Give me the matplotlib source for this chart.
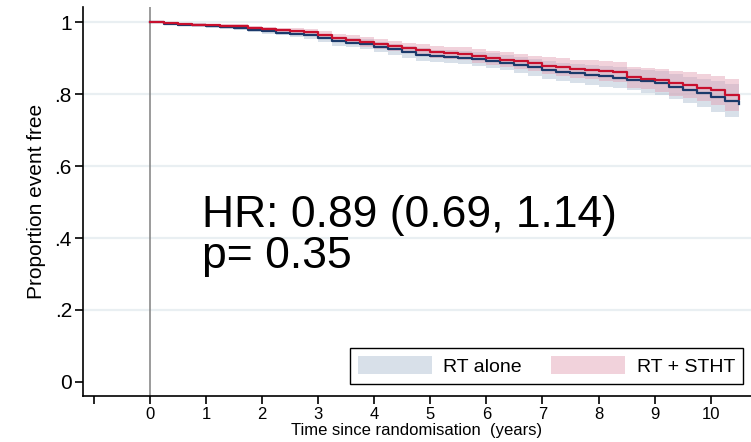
import numpy as np
import matplotlib
matplotlib.use("Agg")
import matplotlib.pyplot as plt
from matplotlib.patches import Patch

plt.rcParams["font.family"] = ["Liberation Sans", "DejaVu Sans"]

# Kaplan-Meier estimates (years since randomisation)
years = [0.0, 0.25, 0.5, 0.75, 1.0, 1.25, 1.5, 1.75, 2.0, 2.25, 2.5, 2.75,
         3.0, 3.25, 3.5, 3.75, 4.0, 4.25, 4.5, 4.75, 5.0, 5.25, 5.5, 5.75,
         6.0, 6.25, 6.5, 6.75, 7.0, 7.25, 7.5, 7.75, 8.0, 8.25, 8.5, 8.75,
         9.0, 9.25, 9.5, 9.75, 10.0, 10.25, 10.5]

rt_alone = [1.000, 0.996, 0.993, 0.991, 0.989, 0.986, 0.984, 0.979, 0.975,
            0.971, 0.967, 0.963, 0.955, 0.947, 0.943, 0.939, 0.932, 0.925,
            0.917, 0.910, 0.906, 0.904, 0.901, 0.897, 0.893, 0.887, 0.881,
            0.874, 0.867, 0.862, 0.858, 0.853, 0.849, 0.845, 0.840, 0.835,
            0.830, 0.820, 0.811, 0.803, 0.793, 0.782, 0.773]

rt_stht = [1.000, 0.997, 0.994, 0.993, 0.992, 0.990, 0.988, 0.984, 0.980,
           0.977, 0.975, 0.972, 0.965, 0.957, 0.951, 0.945, 0.940, 0.934,
           0.928, 0.922, 0.918, 0.915, 0.912, 0.906, 0.900, 0.896, 0.891,
           0.885, 0.879, 0.875, 0.871, 0.868, 0.864, 0.861, 0.847, 0.843,
           0.838, 0.830, 0.824, 0.818, 0.810, 0.798, 0.786]

# 95% confidence band half-widths
rt_alone_ci = [0.000, 0.002, 0.003, 0.004, 0.005, 0.005, 0.006, 0.007, 0.008,
               0.008, 0.009, 0.010, 0.011, 0.012, 0.013, 0.013, 0.014, 0.015,
               0.016, 0.017, 0.017, 0.018, 0.018, 0.019, 0.020, 0.021, 0.022,
               0.023, 0.024, 0.025, 0.026, 0.027, 0.028, 0.029, 0.030, 0.032,
               0.033, 0.035, 0.037, 0.039, 0.042, 0.045, 0.048]

rt_stht_ci = [0.000, 0.002, 0.003, 0.004, 0.004, 0.005, 0.006, 0.006, 0.007,
              0.008, 0.009, 0.009, 0.010, 0.011, 0.012, 0.013, 0.014, 0.014,
              0.015, 0.016, 0.017, 0.017, 0.018, 0.019, 0.019, 0.020, 0.021,
              0.022, 0.023, 0.024, 0.025, 0.026, 0.027, 0.028, 0.029, 0.030,
              0.032, 0.034, 0.036, 0.038, 0.041, 0.044, 0.046]

series_labels = ["RT alone", "RT + STHT"]
line_colors = ["#1b3a6b", "#c8102e"]
band_colors = ["#a9bccf", "#e29db1"]

y_ticks = [0, 0.2, 0.4, 0.6, 0.8, 1.0]
y_tick_labels = ["0", ".2", ".4", ".6", ".8", "1"]
x_ticks = [-1, 0, 1, 2, 3, 4, 5, 6, 7, 8, 9, 10]
x_tick_labels = ["", "0", "1", "2", "3", "4", "5", "6", "7", "8", "9", "10"]

fig = plt.figure(figsize=(7.51, 4.42), dpi=100)
ax = fig.add_axes([83 / 751, 46 / 442, 668 / 751, 389 / 442])

ax.set_xlim(-1.196, 10.72)
ax.set_ylim(-0.039, 1.042)

for y in y_ticks[1:]:
    ax.axhline(y, color="#e9eff2", lw=1.6, zorder=0)

ax.axvline(0, color="#808080", lw=1.1, zorder=1)

t = np.array(years)
handles = []
for surv, ci, lab, lc, bc in zip([rt_alone, rt_stht], [rt_alone_ci, rt_stht_ci],
                                 series_labels, line_colors, band_colors):
    s = np.array(surv)
    h = np.array(ci)
    ax.fill_between(t, s - h, s + h, step="post", color=bc, alpha=0.45,
                    lw=0, zorder=2)
    handles.append(Patch(facecolor=bc, alpha=0.45, edgecolor="none", label=lab))

for surv, lc in zip([rt_alone, rt_stht], line_colors):
    ax.step(t, surv, where="post", color=lc, lw=1.6, zorder=3)

ax.text(0.93, 0.43, "HR: 0.89 (0.69, 1.14)", fontsize=32, va="baseline",
        ha="left", color="black")
ax.text(0.93, 0.317, "p= 0.35", fontsize=32, va="baseline", ha="left",
        color="black")

ax.set_yticks(y_ticks)
ax.set_yticklabels(y_tick_labels, fontsize=15)
ax.set_xticks(x_ticks)
ax.set_xticklabels(x_tick_labels, fontsize=12)
ax.tick_params(axis="y", length=6, width=1.2, pad=2)
ax.tick_params(axis="x", length=6, width=1.2, pad=2)

for side in ["top", "right"]:
    ax.spines[side].set_visible(False)
for side in ["left", "bottom"]:
    ax.spines[side].set_linewidth(1.2)

ax.set_ylabel("Proportion event free", fontsize=15, labelpad=6)
ax.set_xlabel("Time since randomisation  (years)", fontsize=12, labelpad=1)

leg = fig.legend(handles=handles, loc="upper left",
                 bbox_to_anchor=(350 / 751, 1 - 348 / 442), ncol=2,
                 fontsize=14, frameon=True, fancybox=False, framealpha=1,
                 edgecolor="black", handlelength=3.8, handleheight=1.1,
                 handletextpad=0.6, columnspacing=1.5, borderpad=0.4,
                 borderaxespad=0)
leg.get_frame().set_linewidth(1.0)

fig.savefig("out.png", dpi=100)
